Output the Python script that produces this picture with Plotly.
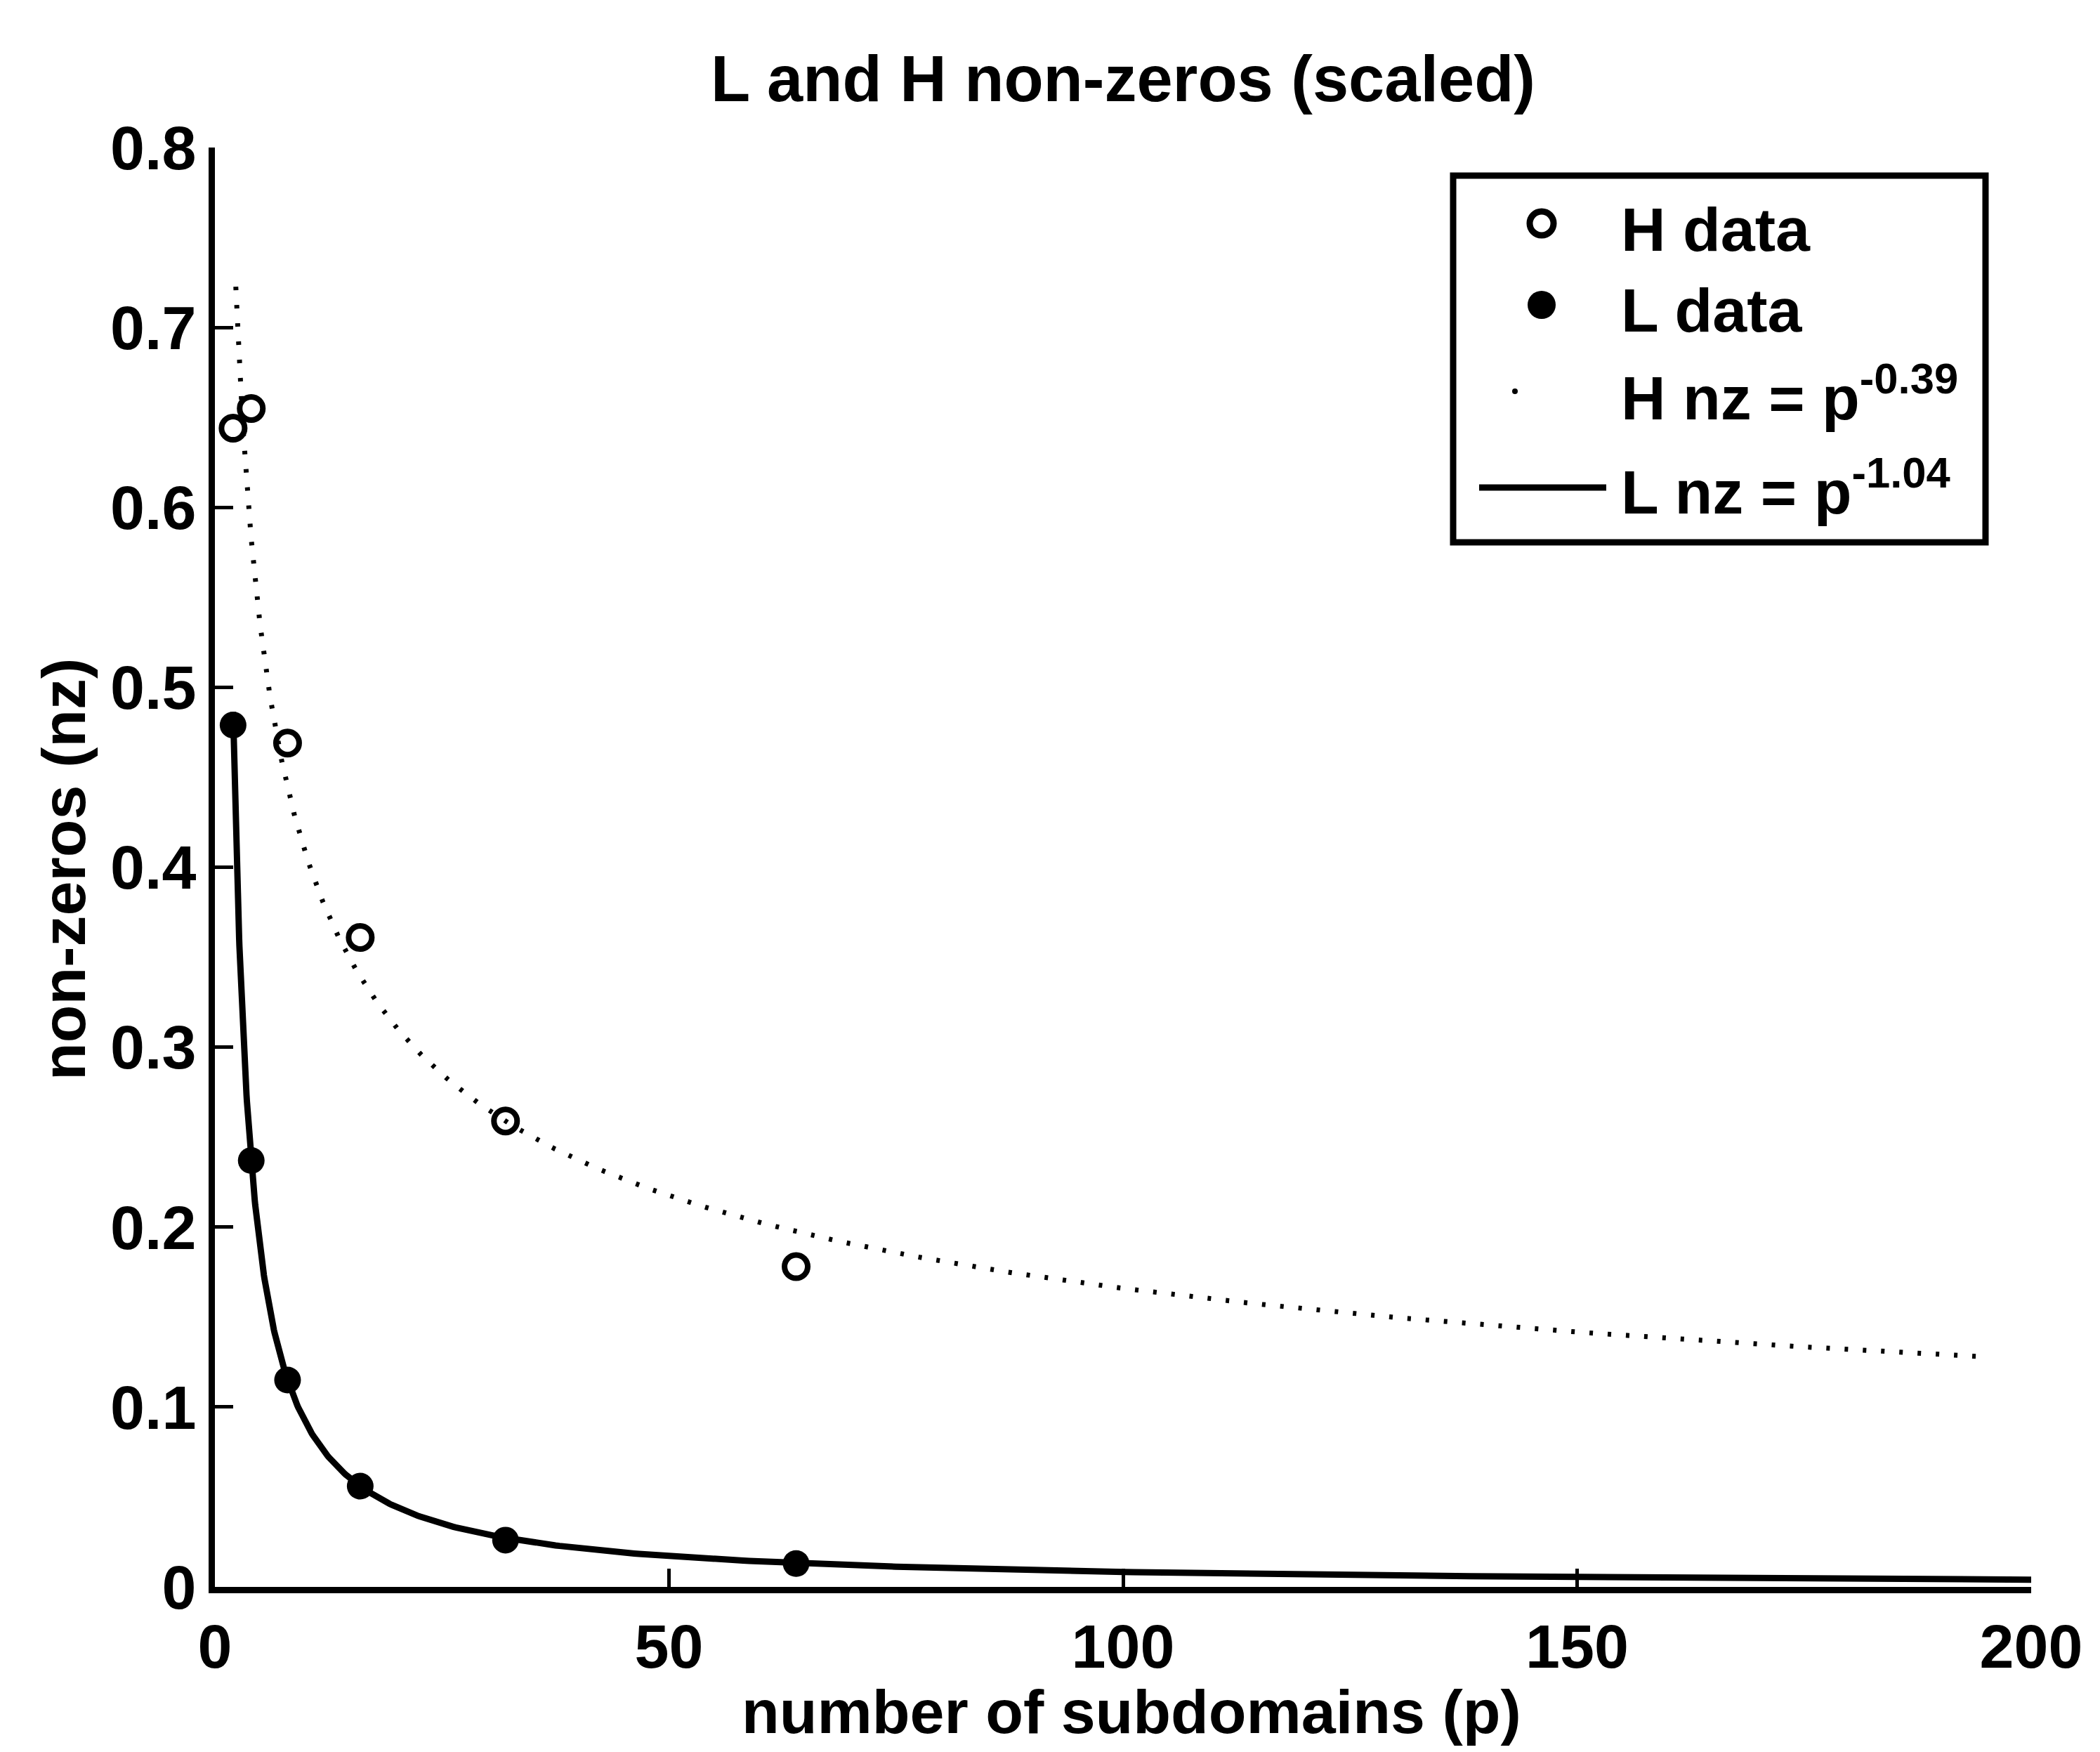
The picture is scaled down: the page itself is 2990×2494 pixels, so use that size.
import numpy as np
import plotly.graph_objects as go

# Number of subdomains and the scaled non-zero counts of the factors
P_DATA = [2, 4, 8, 16, 32, 64]
H_NZ = [0.644, 0.655, 0.469, 0.361, 0.259, 0.178]
L_NZ = [0.479, 0.237, 0.115, 0.056, 0.026, 0.013]

# Power-law fits: nz = p ** exponent
H_EXPONENT = -0.39
L_EXPONENT = -1.04
H_FIT_RANGE = [2.3, 194]
L_FIT_RANGE = [2, 200]

X_TICKS = [0, 50, 100, 150, 200]
Y_TICKS = [0, 0.1, 0.2, 0.3, 0.4, 0.5, 0.6, 0.7, 0.8]
Y_TICK_LABELS = ["0", "0.1", "0.2", "0.3", "0.4", "0.5", "0.6", "0.7", "0.8"]

TITLE = "L and H non-zeros (scaled)"
X_TITLE = "number of subdomains (p)"
Y_TITLE = "non-zeros (nz)"

# Page and plot-area geometry (px)
W, H = 2990, 2494
L_PX, R_PX, T_PX, B_PX = 306, 2892, 210, 2259
FONT = "Liberation Sans, Arial, sans-serif"
FS = 88


def fx(px):
    return (px - L_PX) / (R_PX - L_PX)


def fy(py):
    return (B_PX - py) / (B_PX - T_PX)


def text_font(size=FS):
    return dict(family=FONT, size=size, color="black", weight="bold")


h_fit_p = np.geomspace(H_FIT_RANGE[0], H_FIT_RANGE[1], 400)
l_fit_p = np.geomspace(L_FIT_RANGE[0], L_FIT_RANGE[1], 400)

fig = go.Figure()
fig.add_trace(go.Scatter(
    x=P_DATA, y=H_NZ, mode="markers", name="H data", cliponaxis=False,
    marker=dict(symbol="circle-open", size=33, color="black", line=dict(width=8, color="black")),
))
fig.add_trace(go.Scatter(
    x=P_DATA, y=L_NZ, mode="markers", name="L data", cliponaxis=False,
    marker=dict(symbol="circle", size=38, color="black"),
))
fig.add_trace(go.Scatter(
    x=h_fit_p, y=h_fit_p ** H_EXPONENT, mode="lines", name="H fit",
    line=dict(color="black", width=7, dash="5px,21px"),
))
fig.add_trace(go.Scatter(
    x=l_fit_p, y=l_fit_p ** L_EXPONENT, mode="lines", name="L fit",
    line=dict(color="black", width=9),
))

axis_common = dict(
    showgrid=False, zeroline=False, showline=True, linecolor="black", linewidth=9,
    ticks="inside", ticklen=26, tickwidth=5, tickcolor="black", mirror=False,
    automargin=False, tickfont=text_font(),
)

fig.update_layout(
    template="none",
    width=W, height=H,
    margin=dict(l=L_PX, r=W - R_PX, t=T_PX, b=H - B_PX, autoexpand=False),
    paper_bgcolor="white", plot_bgcolor="white",
    showlegend=False,
    font=text_font(),
    title=dict(text=TITLE, x=(L_PX + R_PX) / 2 / W, xanchor="center",
               y=1 - 112 / H, yanchor="middle", font=text_font(92)),
    xaxis=dict(range=[0, 200], tickvals=X_TICKS, ticklabelstandoff=0, **axis_common),
    yaxis=dict(range=[0, 0.8], tickvals=Y_TICKS, ticktext=Y_TICK_LABELS, ticklabelstandoff=0,
               **axis_common),
)

annotations = [
    dict(text=X_TITLE, xref="paper", yref="paper", x=fx(1611), y=fy(2436),
         xanchor="center", yanchor="middle", showarrow=False, font=text_font()),
    dict(text=Y_TITLE, xref="paper", yref="paper", x=fx(90), y=fy(1238), textangle=-90,
         xanchor="center", yanchor="middle", showarrow=False, font=text_font()),
]

# Legend drawn by hand: box, symbols and labels
shapes = [
    dict(type="rect", xref="paper", yref="paper", x0=fx(2069), x1=fx(2827), y0=fy(250), y1=fy(772),
         line=dict(color="black", width=9), fillcolor="white", layer="above"),
]


def marker_shape(cx, cy, d, filled, lw=0):
    return dict(type="circle", xref="paper", yref="paper", xsizemode="pixel", ysizemode="pixel",
                xanchor=fx(cx), yanchor=fy(cy), x0=-d / 2, x1=d / 2, y0=-d / 2, y1=d / 2,
                fillcolor="black" if filled else "white",
                line=dict(color="black", width=lw), layer="above")


shapes.append(marker_shape(2195, 318, 34, False, 9))
shapes.append(marker_shape(2195, 434, 40, True))
shapes.append(marker_shape(2157, 557, 8, True))
shapes.append(dict(type="line", xref="paper", yref="paper", x0=fx(2106), x1=fx(2287),
                   y0=fy(694), y1=fy(694), line=dict(color="black", width=9), layer="above"))

legend_rows = [
    ("H data", 326),
    ("L data", 441),
    (f"H nz = p<sup>{H_EXPONENT}</sup>", 560),
    (f"L nz = p<sup>{L_EXPONENT}</sup>", 694),
]
for text, cy in legend_rows:
    annotations.append(dict(text=text, xref="paper", yref="paper", x=fx(2306), y=fy(cy),
                            xanchor="left", yanchor="middle", showarrow=False, font=text_font()))

fig.update_layout(shapes=shapes, annotations=annotations)
fig.write_html("out.html")
